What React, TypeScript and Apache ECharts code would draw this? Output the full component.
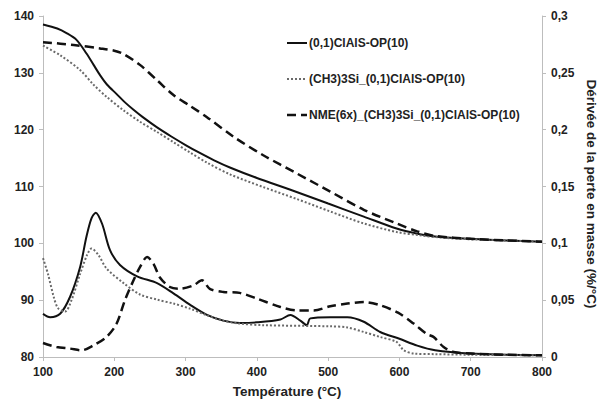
import React, { useEffect, useRef } from "react";
import * as echarts from "echarts";

// Temperature axis ticks
const xMin = 100;
const xMax = 800;
const xStep = 100;
// Left axis (mass) ticks
const leftMin = 80;
const leftMax = 140;
const leftStep = 10;
// Right axis (derivative) ticks
const rightMin = 0;
const rightMax = 0.3;
const rightStep = 0.05;

const seriesNames = [
  "(0,1)ClAlS-OP(10)",
  "(CH3)3Si_(0,1)ClAlS-OP(10)",
  "NME(6x)_(CH3)3Si_(0,1)ClAlS-OP(10)",
];

// Mass curves [T, value]
const massA: [number, number][] = [
  [100, 138.5], [120, 137.8], [133, 137.0], [147, 135.8], [161, 133.4], [171, 131.4],
  [180, 129.6], [190, 127.9], [203, 126.3], [215, 124.8], [227, 123.5], [240, 122.2],
  [260, 120.4], [280, 118.8], [300, 117.3], [320, 115.9], [340, 114.6], [363, 113.3],
  [400, 111.5], [450, 109.3], [500, 107.0], [550, 104.7], [596, 102.6], [625, 101.7],
  [650, 101.2], [700, 100.8], [750, 100.5], [800, 100.3],
];
const massB: [number, number][] = [
  [100, 134.8], [124, 133.1], [152, 130.5], [171, 127.9], [189, 125.8], [213, 123.4],
  [236, 121.4], [260, 119.6], [283, 117.8], [306, 116.0], [330, 114.2], [363, 112.1],
  [409, 109.9], [456, 107.8], [503, 105.6], [550, 103.5], [596, 102.0], [629, 101.4],
  [660, 101.0], [700, 100.7], [750, 100.5], [800, 100.3],
];
const massC: [number, number][] = [
  [100, 135.4], [143, 134.9], [180, 134.3], [200, 133.9], [213, 133.3], [236, 131.4],
  [260, 128.7], [283, 126.1], [306, 124.2], [330, 122.2], [368, 118.7], [409, 115.5],
  [456, 112.3], [503, 109.1], [550, 105.9], [596, 103.5], [625, 102.1], [650, 101.3],
  [700, 100.8], [750, 100.5], [800, 100.3],
];

// Derivative curves [T, value]
const derivA: [number, number][] = [
  [100, 0.038], [110, 0.035], [124, 0.038], [138, 0.053], [152, 0.079], [161, 0.106],
  [168, 0.122], [174, 0.127], [183, 0.117], [194, 0.094], [208, 0.081], [232, 0.071],
  [260, 0.065], [283, 0.056], [306, 0.046], [330, 0.037], [353, 0.032], [376, 0.030],
  [400, 0.0305], [433, 0.033], [447, 0.037], [461, 0.032], [470, 0.028], [475, 0.034],
  [503, 0.035], [527, 0.035], [550, 0.031], [573, 0.022], [600, 0.016], [625, 0.010],
  [650, 0.006], [700, 0.003], [750, 0.002], [800, 0.0015],
];
const derivB: [number, number][] = [
  [100, 0.087], [107, 0.073], [115, 0.053], [121, 0.043], [131, 0.040], [140, 0.050],
  [152, 0.073], [162, 0.090], [168, 0.0955], [178, 0.0895], [189, 0.078], [213, 0.065],
  [236, 0.055], [260, 0.0505], [283, 0.047], [306, 0.0426], [330, 0.0367], [353, 0.032],
  [376, 0.0294], [409, 0.028], [503, 0.027], [527, 0.026], [550, 0.022], [573, 0.0176],
  [596, 0.0132], [606, 0.006], [620, 0.003], [650, 0.0025], [700, 0.002], [800, 0.0015],
];
const derivC: [number, number][] = [
  [100, 0.0123], [119, 0.0088], [138, 0.0074], [154, 0.0059], [171, 0.0103], [189, 0.0176],
  [203, 0.029], [215, 0.05], [227, 0.0675], [236, 0.079], [246, 0.088], [255, 0.082],
  [264, 0.07], [278, 0.0616], [292, 0.06], [311, 0.063], [323, 0.0675], [334, 0.06],
  [353, 0.0572], [376, 0.0564], [400, 0.0514], [433, 0.044], [456, 0.041], [480, 0.041],
  [503, 0.0446], [527, 0.047], [550, 0.0484], [573, 0.0455], [598, 0.039], [620, 0.0294],
  [639, 0.02], [648, 0.0176], [662, 0.0088], [676, 0.0044], [700, 0.003], [750, 0.002],
  [800, 0.0015],
];

const xTitle = "Température (°C)";
const rightTitle = "Dérivée de la perte en masse (%/°C)";

const FONT = "'Liberation Sans', Arial, sans-serif";

export default function App() {
  const ref = useRef<HTMLDivElement>(null);
  useEffect(() => {
    if (!ref.current) return;
    const chart = echarts.init(ref.current, undefined, { renderer: "svg" });
    const styles = [
      { color: "#111", width: 2, type: "solid" as any },
      { color: "#6a6a6a", width: 2, type: [2, 2] as any },
      { color: "#111", width: 2.5, type: [9, 5] as any },
    ];
    const mk = (name: string, data: [number, number][], axis: number, s: any) => ({
      name,
      type: "line",
      yAxisIndex: axis,
      data,
      symbol: "none",
      smooth: 0.3,
      lineStyle: { color: s.color, width: s.width, type: s.type, cap: "butt" },
      itemStyle: { color: s.color },
    });
    const axisLine = { show: true, lineStyle: { color: "#bdbdbd", width: 1 } };
    const axisTick = { show: true, length: 4, inside: false, lineStyle: { color: "#bdbdbd" } };
    const labelStyle = { color: "#222", fontSize: 12, fontWeight: "bold", fontFamily: FONT };
    const legendRows = seriesNames.map((n, i) => {
      const y = 43 + i * 36;
      return [
        {
          type: "line",
          shape: { x1: 287, y1: y, x2: 307, y2: y },
          style: { stroke: styles[i].color, lineWidth: styles[i].width, lineDash: styles[i].type === "solid" ? null : styles[i].type },
        },
        {
          type: "text",
          x: 309,
          y,
          style: {
            text: n,
            align: "left",
            verticalAlign: "middle",
            fill: "#222",
            fontSize: 12,
            fontWeight: "bold",
            fontFamily: FONT,
          },
        },
      ];
    }).flat();
    chart.setOption({
      animation: false,
      backgroundColor: "#fff",
      grid: { left: 43, right: 56, top: 16, bottom: 42, containLabel: false, outerBoundsMode: "none" },
      xAxis: {
        type: "value",
        min: xMin,
        max: xMax,
        interval: xStep,
        axisLine,
        axisTick,
        splitLine: { show: false },
        axisLabel: { ...labelStyle, margin: 9 },
      },
      yAxis: [
        {
          type: "value",
          min: leftMin,
          max: leftMax,
          interval: leftStep,
          position: "left",
          axisLine,
          axisTick,
          splitLine: { show: false },
          axisLabel: { ...labelStyle, margin: 9 },
        },
        {
          type: "value",
          min: rightMin,
          max: rightMax,
          interval: rightStep,
          position: "right",
          axisLine,
          axisTick,
          splitLine: { show: false },
          axisLabel: {
            ...labelStyle,
            margin: 9,
            formatter: (v: number) => String(parseFloat(v.toFixed(2))).replace(".", ","),
          },
        },
      ],
      graphic: [
        ...legendRows,
        {
          type: "text",
          x: 287,
          y: 391,
          style: {
            text: xTitle,
            align: "center",
            verticalAlign: "middle",
            fill: "#222",
            fontSize: 13.5,
            fontWeight: "bold",
            fontFamily: FONT,
          },
        },
        {
          type: "text",
          x: 591,
          y: 194,
          rotation: -Math.PI / 2,
          style: {
            text: rightTitle,
            align: "center",
            verticalAlign: "middle",
            fill: "#222",
            fontSize: 13.5,
            fontWeight: "bold",
            fontFamily: FONT,
          },
        },
      ],
      series: [
        mk(seriesNames[0], massA, 0, styles[0]),
        mk(seriesNames[1], massB, 0, styles[1]),
        mk(seriesNames[2], massC, 0, styles[2]),
        mk(seriesNames[0] + " ", derivA, 1, styles[0]),
        mk(seriesNames[1] + " ", derivB, 1, styles[1]),
        mk(seriesNames[2] + " ", derivC, 1, styles[2]),
      ],
    });
    return () => chart.dispose();
  }, []);
  return (
    <div
      ref={ref}
      style={{ position: "fixed", left: 0, top: 0, width: 598, height: 399, background: "#fff" }}
    />
  );
}
